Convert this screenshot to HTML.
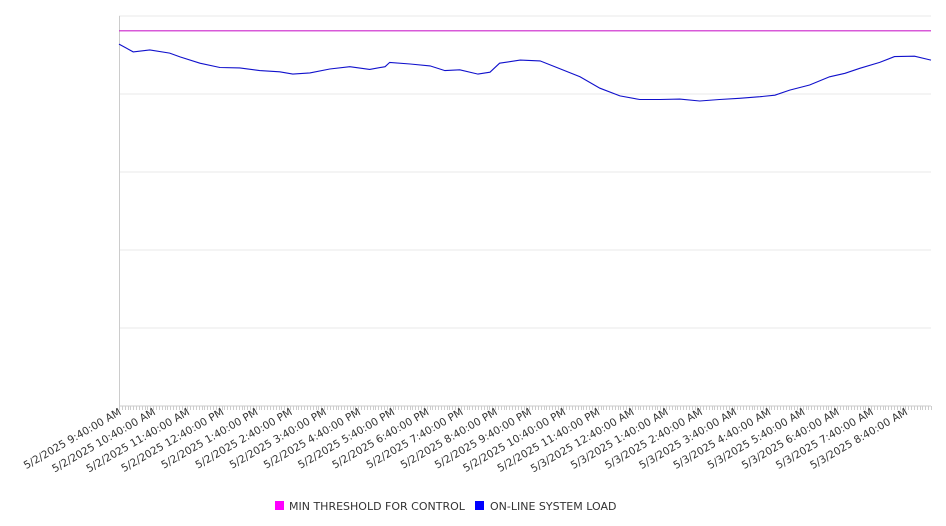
<!DOCTYPE html>
<html><head><meta charset="utf-8"><style>
html,body{margin:0;padding:0;background:#fff;}
svg{display:block;font-family:"DejaVu Sans","Liberation Sans",sans-serif;}
</style></head><body>
<svg id="chart" width="946" height="526" viewBox="0 0 946 526" xmlns="http://www.w3.org/2000/svg">
<g id="grid"></g>
<g id="xaxis"></g>
<g id="series"></g>
<g id="legend">
  <rect x="275" y="501" width="9" height="9" fill="#ff00ff"/>
  <text x="289" y="510" font-size="11" fill="#333">MIN THRESHOLD FOR CONTROL</text>
  <rect x="475" y="501" width="9" height="9" fill="#0000ff"/>
  <text x="490" y="510" font-size="11" fill="#333">ON-LINE SYSTEM LOAD</text>
</g>
</svg>
<script>
// minutes since 5/2/2025 9:40 AM
const loadMinutes = [0,25,54,89,107,142,177,212,247,282,305,335,370,405,440,467,475,511,546,572,598,630,651,668,704,739,765,809,844,879,914,949,984,1019,1054,1089,1125,1151,1177,1212,1247,1274,1300,1335,1361,1396,1425];
const loadValues = [92.8,90.8,91.3,90.5,89.5,87.9,86.8,86.7,86.0,85.7,85.1,85.4,86.4,87.0,86.3,87.0,88.1,87.7,87.2,86.0,86.2,85.1,85.6,87.9,88.7,88.5,87.0,84.4,81.5,79.5,78.6,78.6,78.7,78.2,78.6,78.9,79.3,79.7,81.0,82.3,84.4,85.3,86.6,88.1,89.6,89.7,88.7];
const thresholdValue = 96.2;
const tickLabels = ["5/2/2025 9:40:00 AM","5/2/2025 10:40:00 AM","5/2/2025 11:40:00 AM","5/2/2025 12:40:00 PM","5/2/2025 1:40:00 PM","5/2/2025 2:40:00 PM","5/2/2025 3:40:00 PM","5/2/2025 4:40:00 PM","5/2/2025 5:40:00 PM","5/2/2025 6:40:00 PM","5/2/2025 7:40:00 PM","5/2/2025 8:40:00 PM","5/2/2025 9:40:00 PM","5/2/2025 10:40:00 PM","5/2/2025 11:40:00 PM","5/3/2025 12:40:00 AM","5/3/2025 1:40:00 AM","5/3/2025 2:40:00 AM","5/3/2025 3:40:00 AM","5/3/2025 4:40:00 AM","5/3/2025 5:40:00 AM","5/3/2025 6:40:00 AM","5/3/2025 7:40:00 AM","5/3/2025 8:40:00 AM"];
const yTicks = [0,20,40,60,80,100];

const NS="http://www.w3.org/2000/svg";
const X0=119,X1=931,Y0=406,Y1=16,TMAX=1425,VMAX=100;
const xs=m=>X0+(m/TMAX)*(X1-X0);
const ys=v=>Y0-(v/VMAX)*(Y0-Y1);
function mk(tag,attrs,parent){const e=document.createElementNS(NS,tag);for(const k in attrs)e.setAttribute(k,attrs[k]);parent.appendChild(e);return e;}
const grid=document.getElementById('grid'),xa=document.getElementById('xaxis'),ser=document.getElementById('series');
yTicks.forEach(v=>{
  const l=mk('line',{x1:X0,x2:X1,y1:ys(v),y2:ys(v),stroke:v===0?'#ccc':'#e8e8e8','stroke-width':1},grid);
  
  
});
const ya=mk('line',{x1:X0+0.5,x2:X0+0.5,y1:Y1,y2:Y0,stroke:'#ccc'},grid);


for(let m=0;m<=TMAX;m+=5){
  const x=Math.round(xs(m))+0.5;
  const t=mk('line',{x1:x,x2:x,y1:Y0,y2:Y0+4,stroke:'#ccc'},xa);
  
  
}
tickLabels.forEach((s,i)=>{
  const x=xs(i*60)+3,y=414;
  const t=mk('text',{x:x,y:y,'text-anchor':'end','font-size':'10.5',fill:'#333',transform:`rotate(-30 ${x} ${y})`},xa);
  t.textContent=s;
  
  
});
const th=mk('line',{x1:X0,x2:X1,y1:ys(thresholdValue),y2:ys(thresholdValue),stroke:'#cc22cc','stroke-width':1.2},ser);


const pts=loadMinutes.map((m,i)=>xs(m).toFixed(1)+','+ys(loadValues[i]).toFixed(1)).join(' ');
const ll=mk('polyline',{points:pts,fill:'none',stroke:'#1010cc','stroke-width':1.1},ser);


</script>
</body></html>
